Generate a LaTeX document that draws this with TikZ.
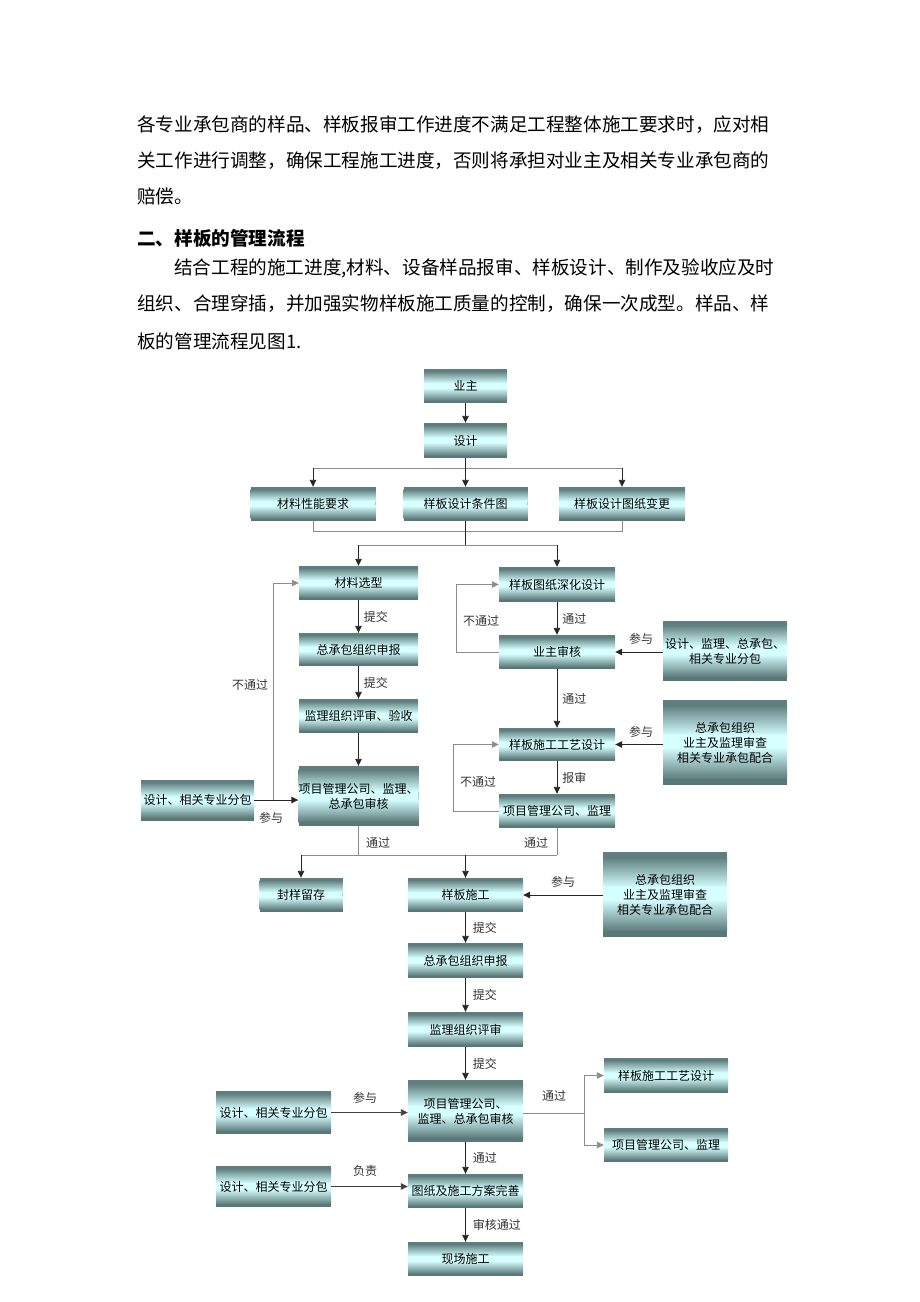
\documentclass[tikz,border=0pt]{standalone}
\usepackage{fontspec}
\setmainfont{Noto Sans CJK SC}
\usetikzlibrary{arrows.meta,calc}
\definecolor{bxd}{HTML}{5A7878}
\definecolor{bxl}{HTML}{D6FFFF}
\definecolor{bxt}{HTML}{5F7E7E}
\tikzset{
  bx/.style={fill=bxd, inner sep=0pt, align=center, font=\fontsize{12}{15}\selectfont, text=black,
    path picture={
      \coordinate (pnw) at (path picture bounding box.north west);
      \coordinate (pse) at (path picture bounding box.south east);
      \coordinate (psw) at (path picture bounding box.south west);
      \coordinate (pne) at (path picture bounding box.north east);
      \shade[top color=bxt, bottom color=bxl] ($(pnw)!0.06!(psw)$) rectangle ($(pne)!0.42!(pse)$);
      \fill[bxt] (pnw) rectangle ($(pne)!0.07!(pse)$);
      \fill[bxl] ($(pnw)!0.415!(psw)$) rectangle ($(pne)!0.56!(pse)$);
      \shade[top color=bxl, bottom color=bxd] ($(pnw)!0.555!(psw)$) rectangle ($(pne)!0.94!(pse)$);
      \fill[bxd] ($(pnw)!0.935!(psw)$) rectangle (pse);
    }},
  lb/.style={font=\fontsize{12}{14}\selectfont, text=black!80, inner sep=0pt},
  para/.style={font=\fontsize{18.6}{20}\selectfont, anchor=west, inner sep=0pt, text=black},
  ar/.style={draw=black!85, line width=0.9pt, -{Triangle[length=7pt,width=6.5pt]}},
  ln/.style={draw=black!45, line width=0.9pt},
  lk/.style={draw=black!85, line width=0.9pt}
}
\begin{document}
\begin{tikzpicture}[x=1pt,y=-1pt]
\path[use as bounding box, fill=white] (0,0) rectangle (920,1302);
% paragraph text
\node[para] (t1) at (137,125) {各专业承包商的样品、样板报审工作进度不满足工程整体施工要求时，应对相};
\node[para] (t2) at (137,161) {关工作进行调整，确保工程施工进度，否则将承担对业主及相关专业承包商的};
\node[para] (t3) at (137,196) {赔偿。};
\node[para, font=\fontsize{18.6}{20}\selectfont\bfseries] (t4) at (137,238) {二、样板的管理流程};
\node[para] (t5) at (174,268) {结合工程的施工进度,材料、设备样品报审、样板设计、制作及验收应及时};
\node[para] (t6) at (137,304) {组织、合理穿插，并加强实物样板施工质量的控制，确保一次成型。样品、样};
\node[para] (t7) at (137,341) {板的管理流程见图1.};

% top
\node[bx, minimum width=83pt, minimum height=34pt] (yz) at (465.5,386) {业主};
\node[bx, minimum width=83pt, minimum height=35pt] (sj) at (465.5,440.5) {设计};
\node[bx, minimum width=125pt, minimum height=34pt] (clxn) at (313,504) {材料性能要求};
\node[bx, minimum width=124pt, minimum height=34pt] (ybtj) at (465.5,504) {样板设计条件图};
\node[bx, minimum width=126pt, minimum height=34pt] (ybbg) at (622,504) {样板设计图纸变更};
\draw[ar] (yz) -- (sj);
\coordinate (b1) at (465.5,468);
\draw[ln] (clxn.north |- b1) -- (ybbg.north |- b1);
\draw[ar] (sj) -- (ybtj);
\draw[ar] (clxn.north |- b1) -- (clxn.north);
\draw[ar] (ybbg.north |- b1) -- (ybbg.north);

% left column
\node[bx, minimum width=119pt, minimum height=34pt] (clxx) at (358.5,583) {材料选型};
\node[bx, minimum width=119pt, minimum height=33pt] (zcb1) at (358.5,649.5) {总承包组织申报};
\node[bx, minimum width=119pt, minimum height=34pt] (jl1) at (358.5,716) {监理组织评审、验收};
\node[bx, minimum width=119pt, minimum height=60pt] (xm1) at (358.5,796) {项目管理公司、监理、\\总承包审核};
\node[bx, minimum width=113pt, minimum height=41pt] (sjL1) at (197.5,800) {设计、相关专业分包};

% right column
\node[bx, minimum width=116pt, minimum height=35pt] (ybsh) at (557,584.5) {样板图纸深化设计};
\node[bx, minimum width=116pt, minimum height=34pt] (yzsh) at (557,652) {业主审核};
\node[bx, minimum width=116pt, minimum height=33pt] (ybgy) at (557,744.5) {样板施工工艺设计};
\node[bx, minimum width=116pt, minimum height=34pt] (xm2) at (557,811) {项目管理公司、监理};
\node[bx, minimum width=124pt, minimum height=60pt] (cy1) at (725,651) {设计、监理、总承包、\\相关专业分包};
\node[bx, minimum width=124pt, minimum height=85pt] (cy2) at (725,742.5) {总承包组织\\业主及监理审查\\相关专业承包配合};

% bus from row 3
\coordinate (b2) at (465.5,531);
\coordinate (b3) at (465.5,545);
\draw[ln] (clxn.south) -- (clxn.south |- b2) -- (ybbg.south |- b2) -- (ybbg.south);
\draw[lk] (ybtj.south) -- (b3);
\draw[ln] (clxx.north |- b3) -- (ybsh.north |- b3);
\draw[ar] (clxx.north |- b3) -- (clxx.north);
\draw[ar] (ybsh.north |- b3) -- (ybsh.north);

% left column arrows
\draw[ar] (clxx) -- node[lb, right=5pt] {提交} (zcb1);
\draw[ar] (zcb1) -- node[lb, right=5pt] {提交} (jl1);
\draw[ar] (jl1) -- (xm1);
\draw[ar] (sjL1.east) -- (xm1.west |- sjL1.east);
\coordinate (nl) at (273,800);
\draw[ln, -{Triangle[length=7pt,width=6.5pt]}] (nl) -- (nl |- clxx.west) -- (clxx.west);
\node[lb] (nlt) at (250,685) {不通过};
\node[lb] (cyt1) at (271,818) {参与};

% right column arrows
\draw[ar] (ybsh) -- node[lb, right=5pt] {通过} (yzsh);
\draw[ar] (yzsh) -- node[lb, right=5pt] {通过} (ybgy);
\draw[ar] (ybgy) -- node[lb, right=5pt] {报审} (xm2);
\draw[ar] (cy1.west |- yzsh.east) -- (yzsh.east);
\draw[ar] (cy2.west |- ybgy.east) -- (ybgy.east);
\node[lb] (cyt2) at (641,639) {参与};
\node[lb] (cyt3) at (641,732) {参与};
\coordinate (l1) at (456,652);
\draw[ln, -{Triangle[length=7pt,width=6.5pt]}] (yzsh.west) -- (l1) -- (l1 |- ybsh.west) -- (ybsh.west);
\node[lb] (nlt2) at (481,621) {不通过};
\coordinate (l2) at (453,811);
\draw[ln, -{Triangle[length=7pt,width=6.5pt]}] (xm2.west) -- (l2) -- (l2 |- ybgy.west) -- (ybgy.west);
\node[lb] (nlt3) at (478,782) {不通过};

% merge
\node[bx, minimum width=83pt, minimum height=34pt] (fy) at (301,895) {封样留存};
\node[bx, minimum width=115pt, minimum height=34pt] (ybsg) at (465.5,895) {样板施工};
\node[bx, minimum width=124pt, minimum height=85pt] (cy3) at (665,894.5) {总承包组织\\业主及监理审查\\相关专业承包配合};
\coordinate (b4) at (465.5,855);
\draw[ln] (xm1.south) -- (xm1.south |- b4);
\draw[ln] (xm2.south) -- (xm2.south |- b4);
\draw[ln] (fy.north |- b4) -- (xm2.south |- b4);
\draw[ar] (fy.north |- b4) -- (fy.north);
\draw[ar] (b4) -- (ybsg.north);
\node[lb] (tg1) at (378,843) {通过};
\node[lb] (tg2) at (536,843) {通过};
\draw[ar] (cy3.west |- ybsg.east) -- (ybsg.east);
\node[lb] (cyt4) at (563,882) {参与};

% lower column
\node[bx, minimum width=115pt, minimum height=35pt] (zcb2) at (465.5,960.5) {总承包组织申报};
\node[bx, minimum width=115pt, minimum height=35pt] (jl2) at (465.5,1029.5) {监理组织评审};
\node[bx, minimum width=115pt, minimum height=62pt] (xm3) at (465.5,1111) {项目管理公司、\\监理、总承包审核};
\node[bx, minimum width=115pt, minimum height=34pt] (tz) at (465.5,1191) {图纸及施工方案完善};
\node[bx, minimum width=115pt, minimum height=34pt] (xc) at (465.5,1259) {现场施工};
\node[bx, minimum width=115pt, minimum height=43pt] (sjL2) at (273.5,1112.5) {设计、相关专业分包};
\node[bx, minimum width=115pt, minimum height=41pt] (sjL3) at (273.5,1186.5) {设计、相关专业分包};
\node[bx, minimum width=124pt, minimum height=35pt] (r1) at (666,1075.5) {样板施工工艺设计};
\node[bx, minimum width=124pt, minimum height=34pt] (r2) at (666,1145) {项目管理公司、监理};

\draw[ar] (ybsg) -- node[lb, right=7pt] {提交} (zcb2);
\draw[ar] (zcb2) -- node[lb, right=7pt] {提交} (jl2);
\draw[ar] (jl2) -- node[lb, right=7pt] {提交} (xm3);
\draw[ar] (xm3) -- node[lb, right=7pt] {通过} (tz);
\draw[ar] (tz) -- node[lb, right=7pt] {审核通过} (xc);
\draw[ln, draw=black!75, -{Triangle[length=7pt,width=6.5pt]}] (sjL2.east) -- (xm3.west |- sjL2.east);
\node[lb] (cyt5) at (365,1098) {参与};
\draw[ln, draw=black!75, -{Triangle[length=7pt,width=6.5pt]}] (sjL3.east) -- (tz.west |- sjL3.east);
\node[lb] (fz) at (365,1171) {负责};
\coordinate (b5) at (584,1113);
\draw[ln] (xm3.east |- b5) -- (b5);
\draw[ln, -{Triangle[length=7pt,width=6.5pt]}] (b5) -- (b5 |- r1.west) -- (r1.west);
\draw[ln, -{Triangle[length=7pt,width=6.5pt]}] (b5) -- (b5 |- r2.west) -- (r2.west);
\node[lb] (tg3) at (554,1096) {通过};
\end{tikzpicture}
\end{document}
